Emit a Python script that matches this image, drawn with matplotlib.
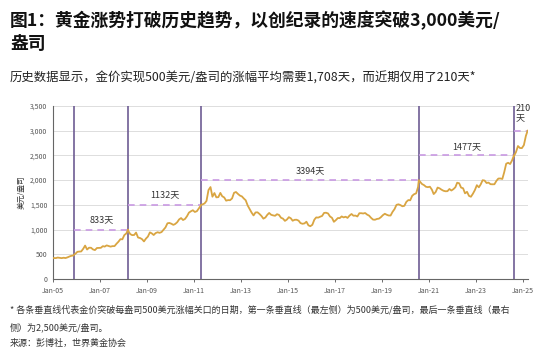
import numpy as np
import pandas as pd
import matplotlib
matplotlib.use('Agg')
import matplotlib.pyplot as plt
import matplotlib.dates as mdates
from matplotlib.ticker import FuncFormatter

plt.rcParams['font.family'] = ['Noto Sans CJK SC', 'DejaVu Sans']

# monthly gold price, USD/oz, Jan 2005 - Feb 2025
gold = [
    424, 423, 434, 429, 422, 430, 424, 438, 456, 470, 476, 510,
    550, 555, 557, 610, 676, 596, 633, 632, 598, 585, 627, 629,
    631, 665, 655, 680, 668, 655, 665, 665, 713, 754, 806, 803,
    889, 922, 975, 909, 888, 890, 939, 839, 829, 807, 760, 816,
    858, 943, 924, 890, 929, 946, 934, 949, 996, 1043, 1127, 1134,
    1118, 1095, 1113, 1148, 1205, 1233, 1193, 1215, 1271, 1343, 1370, 1391,
    1356, 1372, 1424, 1480, 1510, 1529, 1580, 1800, 1860, 1665, 1739, 1652,
    1656, 1742, 1674, 1650, 1585, 1596, 1594, 1630, 1744, 1760, 1721, 1688,
    1671, 1627, 1593, 1487, 1414, 1343, 1286, 1347, 1349, 1316, 1275, 1221,
    1244, 1300, 1336, 1299, 1287, 1279, 1311, 1296, 1239, 1222, 1176, 1202,
    1251, 1227, 1179, 1198, 1199, 1181, 1131, 1117, 1125, 1159, 1086, 1068,
    1097, 1200, 1246, 1242, 1260, 1276, 1337, 1341, 1326, 1266, 1238, 1157,
    1192, 1234, 1231, 1266, 1246, 1260, 1236, 1283, 1315, 1280, 1283, 1265,
    1331, 1331, 1325, 1335, 1303, 1282, 1238, 1202, 1199, 1215, 1221, 1250,
    1291, 1320, 1300, 1285, 1284, 1359, 1413, 1500, 1511, 1495, 1471, 1480,
    1560, 1597, 1592, 1683, 1716, 1732, 1860, 1968, 1921, 1900, 1866, 1858,
    1867, 1808, 1718, 1760, 1850, 1834, 1807, 1785, 1775, 1777, 1821, 1790,
    1817, 1856, 1948, 1937, 1849, 1836, 1733, 1764, 1681, 1664, 1726, 1798,
    1898, 1855, 1912, 1999, 1992, 1942, 1951, 1918, 1916, 1917, 1985, 2032,
    2034, 2024, 2159, 2332, 2351, 2326, 2399, 2490, 2571, 2690, 2650, 2648,
    2709, 2895,
]

# dates the price first broke each $500 level
cross_dates = ['2005-12-01', '2008-03-13', '2011-04-20', '2020-07-27', '2024-08-13', '2025-03-14']
cross_levels = [500, 1000, 1500, 2000, 2500, 3000]
day_labels = ['833天', '1132天', '3394天', '1477天', '210\n天']
label_y = [1200, 1700, 2200, 2680, 3350]
tick_years = list(range(2005, 2026, 2))

dates = pd.date_range('2005-01-01', periods=len(gold), freq='MS') + pd.Timedelta(days=14)
s = pd.concat([pd.Series(gold, index=dates),
               pd.Series(cross_levels, index=pd.to_datetime(cross_dates))]).sort_index()

fig = plt.figure(figsize=(5.5, 3.6), dpi=100)
ax = fig.add_axes([53 / 550, 81 / 360, 475 / 550, 173 / 360])

ax.plot(s.index, s.values, color='#d9a542', lw=1.3, zorder=3)

cd = pd.to_datetime(cross_dates)
xend = pd.Timestamp('2025-03-20')
for i in range(5):
    ax.axvline(cd[i], color='#6e5c94', lw=1.2, zorder=2)
    nxt = cd[i + 1] if i < 4 else xend
    ax.plot([cd[i], nxt], [cross_levels[i + 1]] * 2, color='#c99ae3',
            lw=1.2, ls=(0, (4, 3)), zorder=2)
    if i < 4:
        mid = cd[i] + (nxt - cd[i]) / 2
        ax.text(mid, label_y[i], day_labels[i], ha='center', va='center',
                fontsize=6.5, color='#333333')
    else:
        ax.text(cd[i] + pd.Timedelta(days=30), label_y[i], day_labels[i], ha='left',
                va='center', fontsize=6.5, color='#333333', linespacing=1.1)

ax.set_xlim(pd.Timestamp('2005-01-01'), xend)
ax.set_ylim(0, 3500)
ax.set_yticks(np.arange(0, 3501, 500))
ax.yaxis.set_major_formatter(FuncFormatter(lambda v, p: f'{int(v):,}'))
ax.set_xticks([pd.Timestamp(f'{y}-01-01') for y in tick_years])
ax.xaxis.set_major_formatter(mdates.DateFormatter('%b-%y'))
ax.grid(axis='y', color='#dddddd', lw=0.7)
ax.set_axisbelow(True)
for sp in ['top', 'right']:
    ax.spines[sp].set_visible(False)
for sp in ['left', 'bottom']:
    ax.spines[sp].set_color('#666666')
    ax.spines[sp].set_linewidth(0.8)
ax.tick_params(axis='both', labelsize=5, colors='#555555', length=2, width=0.6)
ax.tick_params(axis='y', length=0, pad=4)
ax.set_ylabel('美元/盎司', fontsize=5.5, color='#333333', labelpad=3)

fig.text(10 / 550, 1 - 20 / 360, '图1：黄金涨势打破历史趋势，以创纪录的速度突破3,000美元/',
         fontsize=12.8, fontweight='bold', va='center', color='#111111')
fig.text(10 / 550, 1 - 44 / 360, '盎司', fontsize=12.8, fontweight='bold', va='center', color='#111111')
fig.text(10 / 550, 1 - 78 / 360, '历史数据显示，金价实现500美元/盎司的涨幅平均需要1,708天，而近期仅用了210天*',
         fontsize=8.9, va='center', color='#222222')
fig.text(10 / 550, 1 - 310 / 360,
         '* 各条垂直线代表金价突破每盎司500美元涨幅关口的日期，第一条垂直线（最左侧）为500美元/盎司，最后一条垂直线（最右',
         fontsize=6.5, va='center', color='#333333')
fig.text(10 / 550, 1 - 327 / 360, '侧）为2,500美元/盎司。', fontsize=6.5, va='center', color='#333333')
fig.text(10 / 550, 1 - 343 / 360, '来源：彭博社，世界黄金协会', fontsize=6.5, va='center', color='#333333')

fig.savefig('out.png', dpi=100)
